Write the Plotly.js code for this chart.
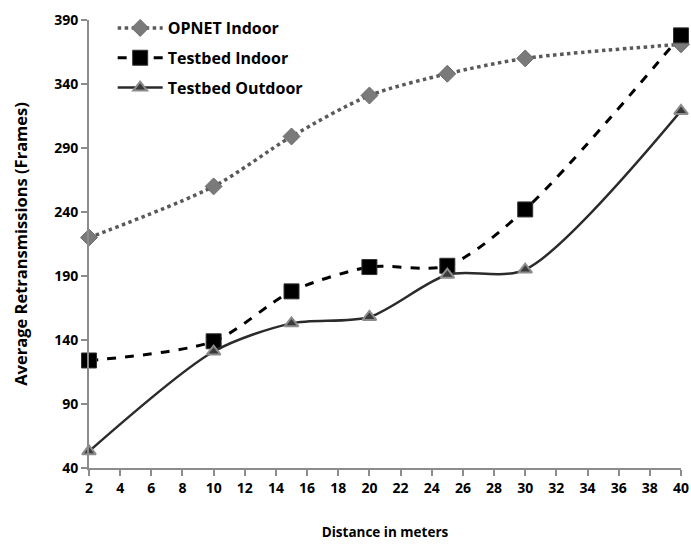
<!DOCTYPE html>
<html>
<head>
<meta charset="utf-8">
<script src="https://cdn.plot.ly/plotly-3.0.1.min.js"></script>
<style>html,body{margin:0;padding:0;background:#fff;}#chart{width:691px;height:545px;}</style>
</head>
<body>
<div id="chart"></div>
<script>
var distance = [2, 10, 15, 20, 25, 30, 40];
var opnetIndoor = [220, 260, 299, 331, 348, 360, 371];
var testbedIndoor = [124, 139, 178, 197, 198, 242, 378];
var testbedOutdoor = [53, 131, 153, 158, 191, 195, 319];
var seriesNames = ['OPNET Indoor', 'Testbed Indoor', 'Testbed Outdoor'];
var xTicks = [2,4,6,8,10,12,14,16,18,20,22,24,26,28,30,32,34,36,38,40];
var yTicks = [40, 90, 140, 190, 240, 290, 340, 390];

var fontFam = '"Open Sans", "Liberation Sans", sans-serif';
var traces = [
  {x: distance, y: opnetIndoor, name: seriesNames[0], legendgroup: 'a', mode: 'lines+markers', cliponaxis: false,
   line: {color: '#595959', width: 3.5, dash: 'dot', shape: 'spline', smoothing: 0.8},
   marker: {symbol: 'diamond', size: 13, color: '#7a7a7a', line: {color: '#6a6a6a', width: 1}}},
  {x: distance, y: testbedIndoor, name: seriesNames[1], legendgroup: 'b', mode: 'lines+markers', cliponaxis: false,
   line: {color: '#000000', width: 3, dash: 'dash', shape: 'spline', smoothing: 0.8},
   marker: {symbol: 'square', size: 15, color: '#000000', line: {color: '#333', width: 1}}},
  {x: distance, y: testbedOutdoor, name: seriesNames[2], legendgroup: 'c', mode: 'lines+markers', cliponaxis: false,
   line: {color: '#2b2b2b', width: 2.5, shape: 'spline', smoothing: 0.8},
   marker: {symbol: 'triangle-up', size: 12, color: '#3a3a3a', line: {color: '#8c8c8c', width: 2}}}
];

var layout = {
  width: 691, height: 545,
  margin: {l: 89, r: 10, t: 20, b: 77},
  paper_bgcolor: '#ffffff', plot_bgcolor: '#ffffff',
  font: {family: fontFam, size: 14, color: '#000'},
  showlegend: true,
  legend: {x: 0.04, y: 1.02, xanchor: 'left', yanchor: 'top', bgcolor: 'rgba(0,0,0,0)', traceorder: 'grouped',
           font: {family: fontFam, size: 16, color: '#000', weight: 'bold'}, tracegroupgap: 6, itemwidth: 45},
  xaxis: {
    range: [2, 40], tickvals: xTicks, ticktext: xTicks.map(String),
    showgrid: false, zeroline: false, showline: true, linecolor: '#8c8c8c', linewidth: 2,
    ticks: 'outside', ticklen: 6, tickcolor: '#8c8c8c', tickwidth: 2,
    tickfont: {family: fontFam, size: 14, color: '#000', weight: 'bold'},
    title: {text: 'Distance in meters', font: {family: fontFam, size: 13.5, color: '#000', weight: 'bold'}, standoff: 32}
  },
  yaxis: {
    range: [40, 390], tickvals: yTicks, ticktext: yTicks.map(String),
    showgrid: false, zeroline: false, showline: true, linecolor: '#8c8c8c', linewidth: 2,
    ticks: 'outside', ticklen: 6, tickcolor: '#8c8c8c', tickwidth: 2,
    tickfont: {family: fontFam, size: 14, color: '#000', weight: 'bold'},
    title: {text: 'Average Retransmissions (Frames)', font: {family: fontFam, size: 16.5, color: '#000', weight: 'bold'}, standoff: 22}
  }
};
Plotly.newPlot('chart', traces, layout, {displayModeBar: false, staticPlot: true});
</script>
</body>
</html>
